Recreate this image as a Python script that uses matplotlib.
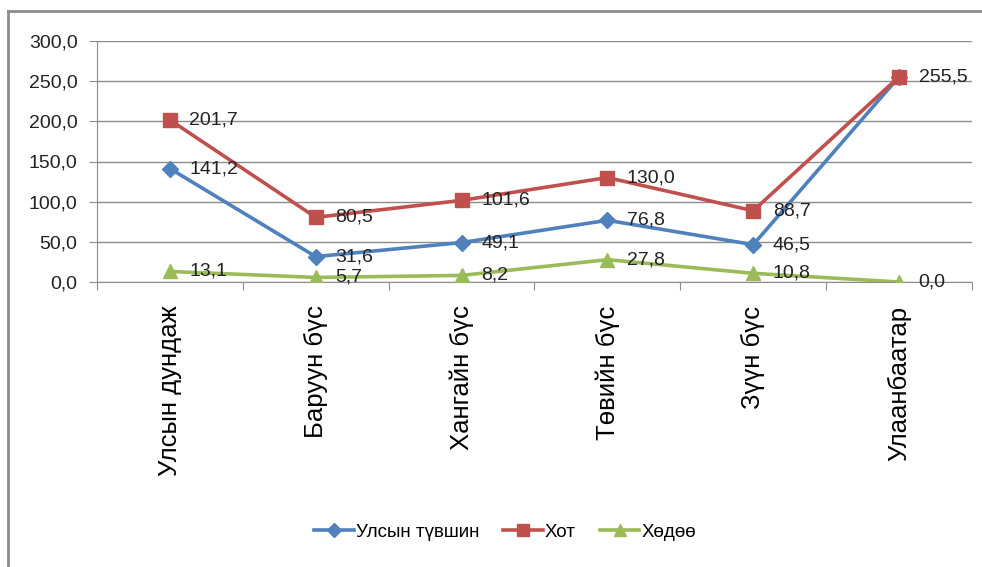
import numpy as np
import matplotlib.pyplot as plt
from matplotlib.lines import Line2D

plt.rcParams['font.family'] = ['Liberation Sans', 'DejaVu Sans']

categories = ['Улсын дундаж', 'Баруун бүс', 'Хангайн бүс', 'Төвийн бүс', 'Зүүн бүс', 'Улаанбаатар']
national = [141.2, 31.6, 49.1, 76.8, 46.5, 255.5]
urban = [201.7, 80.5, 101.6, 130.0, 88.7, 255.5]
rural = [13.1, 5.7, 8.2, 27.8, 10.8, 0.0]
series_names = ['Улсын түвшин', 'Хот', 'Хөдөө']
yticks = [0, 50, 100, 150, 200, 250, 300]

W, H = 982, 567
fig = plt.figure(figsize=(W / 100, H / 100), dpi=100)
ax = fig.add_axes([97 / W, 1 - 282 / H, (972 - 97) / W, (282 - 41) / H])

# outer chart frame (only top and left edges visible in the reference)
fig.add_artist(Line2D([8 / W, 8 / W], [0, 1 - 11 / H], transform=fig.transFigure, color='#8c8c8c', lw=2))
fig.add_artist(Line2D([8 / W, 1], [1 - 11 / H, 1 - 11 / H], transform=fig.transFigure, color='#8c8c8c', lw=2))

x = np.arange(len(categories))
styles = [
    (national, '#4F81BD', 'D', 8.5),
    (urban, '#C0504D', 's', 10),
    (rural, '#9BBB59', '^', 10),
]
drawn = set()
for (vals, color, marker, ms), name in zip(styles, series_names):
    ax.plot(x, vals, color=color, lw=2.6, marker=marker, markersize=ms, label=name, zorder=3)
    for xi, v in zip(x, vals):
        if (xi, v) in drawn:
            continue
        drawn.add((xi, v))
        ax.annotate(f'{v:.1f}'.replace('.', ','), (xi, v), xytext=(14, 0), textcoords='offset points',
                    ha='left', va='center', fontsize=14, color='#222222', zorder=4)

ax.set_xlim(-0.5, len(categories) - 0.5)
ax.set_ylim(0, 300)
ax.set_yticks(yticks)
ax.set_yticklabels([f'{t:.1f}'.replace('.', ',') for t in yticks], fontsize=14, color='#222222')
ax.yaxis.grid(True, color='#8c8c8c', lw=1)
ax.set_axisbelow(True)

# category labels at centers, tick marks at category boundaries
ax.set_xticks(np.arange(-0.5, len(categories), 1))
ax.set_xticklabels([])
ax.set_xticks(x, minor=True)
ax.set_xticklabels(categories, minor=True, rotation=90, fontsize=18.5, va='top', ha='center')
ax.tick_params(axis='x', which='minor', length=0, pad=17)
ax.tick_params(axis='x', which='major', length=6, color='#8c8c8c')
ax.tick_params(axis='y', length=6, color='#8c8c8c', pad=8)

for side in ['top', 'right']:
    ax.spines[side].set_visible(False)
for side in ['left', 'bottom']:
    ax.spines[side].set_color('#8c8c8c')

fig.legend(loc='center', bbox_to_anchor=(505 / W, 1 - 532 / H), ncol=3, frameon=False,
           fontsize=13.5, handlelength=2.1, columnspacing=1.3, handletextpad=0.1, markerscale=0.8)

fig.savefig('out.png', dpi=100)
